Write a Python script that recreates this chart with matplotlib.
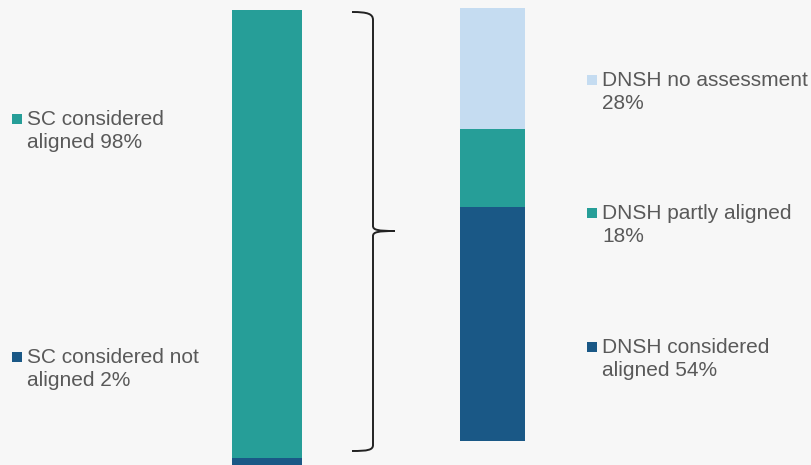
import matplotlib
matplotlib.use("Agg")
import matplotlib.pyplot as plt
from matplotlib.path import Path
from matplotlib.patches import PathPatch

plt.rcParams['font.family'] = ['Liberation Sans', 'DejaVu Sans']

# data
sc_labels = ['SC considered not\naligned 2%', 'SC considered\naligned 98%']
sc_values = [2, 98]
dnsh_labels = ['DNSH considered\naligned 54%', 'DNSH partly aligned\n18%', 'DNSH no assessment\n28%']
dnsh_values = [54, 18, 28]

c_dark = '#1a5886'
c_teal = '#269e98'
c_light = '#c5dcf1'
sc_colors = [c_dark, c_teal]
dnsh_colors = [c_dark, c_teal, c_light]
bg = '#f7f7f7'
txt = '#595959'

W, H = 812, 465
fig = plt.figure(figsize=(W / 100, H / 100), dpi=100, facecolor=bg)

def px_axes(x0, x1, ytop, ybot):
    return fig.add_axes([x0 / W, (H - ybot) / H, (x1 - x0) / W, (ybot - ytop) / H])

def stacked(ax, values, colors):
    bottom = 0
    for v, c in zip(values, colors):
        ax.bar(0, v, bottom=bottom, width=1, color=c, linewidth=0)
        bottom += v
    ax.set_xlim(-0.5, 0.5)
    ax.set_ylim(0, 100)
    ax.axis('off')

ax1 = px_axes(232, 302, 10, 467)
stacked(ax1, sc_values, sc_colors)
ax2 = px_axes(460, 525, 8, 441)
stacked(ax2, dnsh_values, dnsh_colors)

# overlay for brace and labels (pixel coordinates)
ov = fig.add_axes([0, 0, 1, 1], facecolor='none')
ov.set_xlim(0, W)
ov.set_ylim(H, 0)
ov.axis('off')

verts = [(352, 12), (368, 12), (373, 14), (373, 20),
         (373, 226),
         (373, 230), (378, 231), (395, 231),
         (378, 231), (373, 232), (373, 236),
         (373, 445),
         (373, 450), (368, 451), (352, 451)]
codes = [Path.MOVETO, Path.CURVE4, Path.CURVE4, Path.CURVE4,
         Path.LINETO,
         Path.CURVE4, Path.CURVE4, Path.CURVE4,
         Path.CURVE4, Path.CURVE4, Path.CURVE4,
         Path.LINETO,
         Path.CURVE4, Path.CURVE4, Path.CURVE4]
ov.add_patch(PathPatch(Path(verts, codes), fill=False, edgecolor='#222222', lw=1.4))

fs = 15
sc_pos = [(13, 357), (13, 119)]
dnsh_pos = [(588, 347), (588, 213), (588, 80)]
for lab, col, (x, y) in list(zip(sc_labels, sc_colors, sc_pos)) + list(zip(dnsh_labels, dnsh_colors, dnsh_pos)):
    ov.plot(x + 4.5, y, marker='s', ms=7, color=col, mew=0)
    ov.text(x + 14, y + 12, lab, fontsize=fs, color=txt, va='center', ha='left', linespacing=1.3)

fig.savefig('out.png', dpi=100, facecolor=bg)
